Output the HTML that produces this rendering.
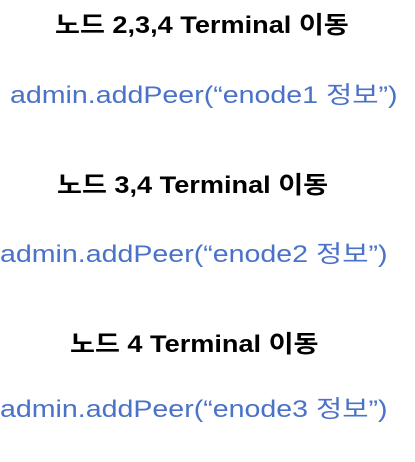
<!DOCTYPE html>
<html><head><meta charset="utf-8"><style>
body{margin:0;width:415px;height:462px;background:#fff;position:relative;overflow:hidden;font-family:"Liberation Sans","Noto Sans CJK KR",sans-serif;}
.t{position:absolute;white-space:nowrap;font-size:23px;line-height:30px;transform-origin:0 0;}
.k{color:#000;font-weight:bold;font-size:24px;transform:scaleX(1.13);}
.b{color:#4A72C8;font-size:24px;transform:scaleX(1.19);}
</style></head><body>
<div class="t k" style="top:11px;left:55px">노드 2,3,4 Terminal 이동</div>
<div class="t b" style="top:81px;left:10px">admin.addPeer(“enode1 정보”)</div>
<div class="t k" style="top:171px;left:57px">노드 3,4 Terminal 이동</div>
<div class="t b" style="top:240px;left:0px">admin.addPeer(“enode2 정보”)</div>
<div class="t k" style="top:330px;left:70px">노드 4 Terminal 이동</div>
<div class="t b" style="top:395px;left:0px">admin.addPeer(“enode3 정보”)</div>
</body></html>
